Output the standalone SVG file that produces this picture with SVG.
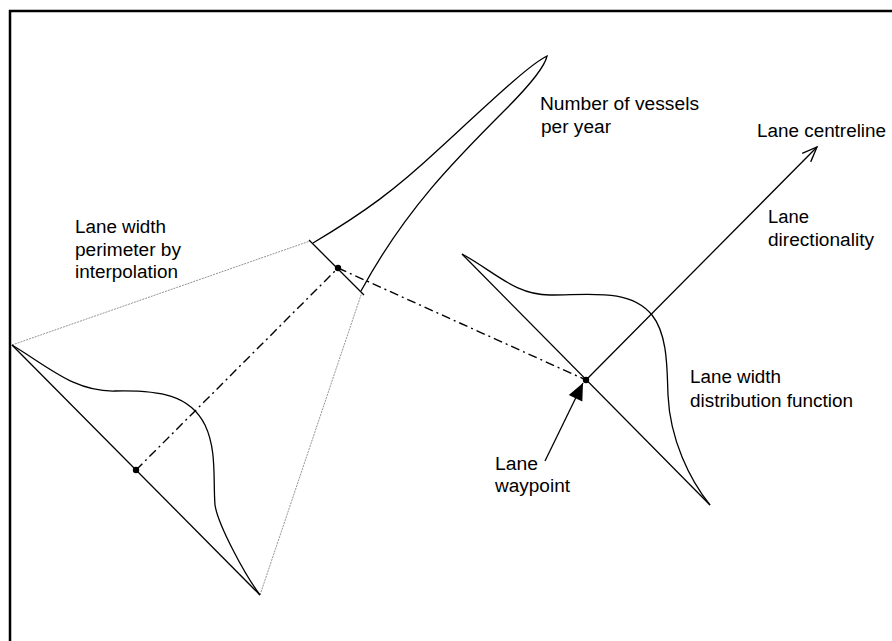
<svg xmlns="http://www.w3.org/2000/svg" width="892" height="641" viewBox="0 0 892 641">
<defs>
<style>
.ln{fill:none;stroke:#000;stroke-width:1.3}
.dd{fill:none;stroke:#000;stroke-width:1.4;stroke-dasharray:9,4,2,4}
.dt{fill:none;stroke:#777;stroke-width:0.8;stroke-dasharray:2,1}
.t{font-family:"Liberation Sans",Arial,sans-serif;font-size:18px;fill:#000}
</style>
<marker id="open" markerUnits="userSpaceOnUse" markerWidth="20" markerHeight="16" refX="0" refY="0" viewBox="-17 -8 20 16" orient="auto" overflow="visible">
<path d="M-15,-6 L0,0 L-15,6" fill="none" stroke="#000" stroke-width="1.3"/>
</marker>
<marker id="solid" markerUnits="userSpaceOnUse" markerWidth="20" markerHeight="18" refX="0" refY="0" viewBox="-18 -9 20 18" orient="auto" overflow="visible">
<path d="M-17,-7.5 L0,0 L-17,7.5 Z" fill="#000"/>
</marker>
</defs>
<rect x="10" y="11" width="900" height="700" fill="#fff" stroke="#000" stroke-width="2.5"/>

<g id="connectors">
<line class="dt" x1="12" y1="345" x2="310" y2="241"/>
<line class="dt" x1="260" y1="595" x2="362" y2="292"/>
<line class="dd" x1="136" y1="470" x2="338" y2="268"/>
<line class="dd" x1="338" y1="268" x2="586" y2="380"/>
<line class="ln" x1="586" y1="380" x2="817" y2="147" marker-end="url(#open)"/>
<line class="ln" x1="545" y1="461" x2="583" y2="383" marker-end="url(#solid)"/>
</g>

<g id="left-distribution">
<line class="ln" x1="12" y1="345" x2="260" y2="595"/>
<path class="ln" d="M12,345 C50,368 75,392 115,391 C160,390 190,395 205,425 C217,450 213,480 215,505 C218,525 245,575 260,595"/>
<circle cx="136" cy="470" r="3.2" fill="#000"/>
</g>

<g id="vessels-distribution">
<line class="ln" x1="309" y1="240" x2="364" y2="295"/>
<path class="ln" d="M313,243 C365,212 395,190 440,148 C490,102 530,64 547,56 C545,66 530,85 505,110 C455,160 405,210 361,291"/>
<circle cx="338" cy="268" r="3.2" fill="#000"/>
</g>

<g id="right-distribution">
<line class="ln" x1="462" y1="254" x2="710" y2="505"/>
<path class="ln" d="M462,254 C495,272 515,295 550,295 C590,295 630,288 652,315 C668,335 667,370 668,395 C670,440 690,480 710,505"/>
<circle cx="586" cy="380" r="3.2" fill="#000"/>
</g>

<g id="labels">
<text class="t" x="540" y="110" textLength="159" lengthAdjust="spacingAndGlyphs">Number of vessels</text>
<text class="t" x="541" y="133" textLength="70" lengthAdjust="spacingAndGlyphs">per year</text>
<text class="t" x="757" y="137" textLength="129" lengthAdjust="spacingAndGlyphs">Lane centreline</text>
<text class="t" x="768" y="223" textLength="41" lengthAdjust="spacingAndGlyphs">Lane</text>
<text class="t" x="768" y="246" textLength="106" lengthAdjust="spacingAndGlyphs">directionality</text>
<text class="t" x="690" y="383" textLength="91" lengthAdjust="spacingAndGlyphs">Lane width</text>
<text class="t" x="690" y="407" textLength="163" lengthAdjust="spacingAndGlyphs">distribution function</text>
<text class="t" x="495" y="470" textLength="43" lengthAdjust="spacingAndGlyphs">Lane</text>
<text class="t" x="495" y="492" textLength="75" lengthAdjust="spacingAndGlyphs">waypoint</text>
<text class="t" x="75" y="233" textLength="91" lengthAdjust="spacingAndGlyphs">Lane width</text>
<text class="t" x="75" y="256" textLength="106" lengthAdjust="spacingAndGlyphs">perimeter by</text>
<text class="t" x="75" y="278" textLength="103" lengthAdjust="spacingAndGlyphs">interpolation</text>
</g>
</svg>
